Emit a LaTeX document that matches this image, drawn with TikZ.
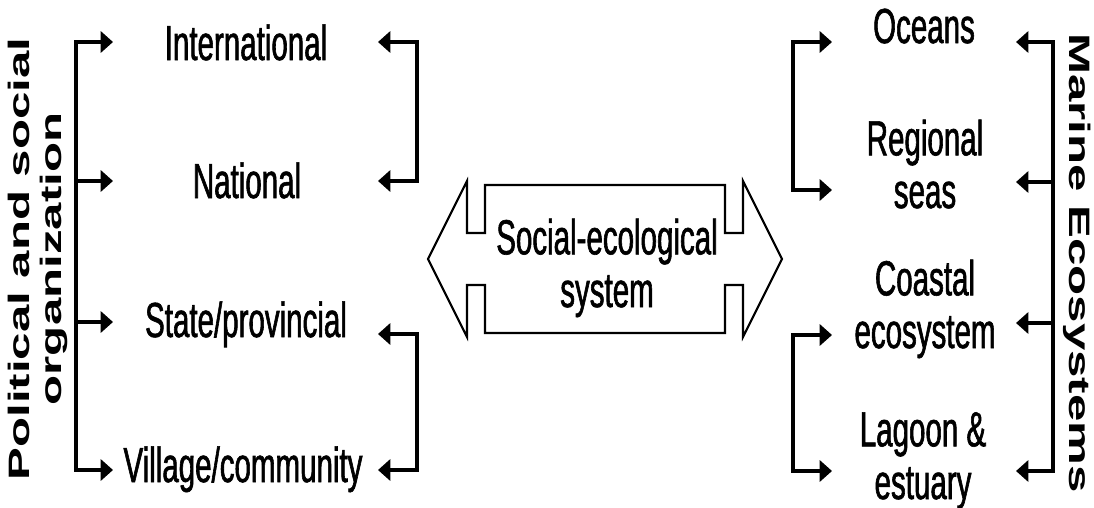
\documentclass[tikz,border=0pt]{standalone}
\usepackage{fontspec}
\usetikzlibrary{arrows.meta}
\newfontfamily\narrowsans[FakeStretch=0.6,FakeBold=1.2]{Liberation Sans}
\newfontfamily\widesans{Liberation Sans}
\tikzset{
  level/.style={font=\narrowsans\fontsize{28}{30}\selectfont, align=center,
    inner sep=0pt, anchor=base},
  sidetitle/.style={font=\widesans\bfseries\fontsize{28}{30}\selectfont,
    inner sep=0pt},
  bracket/.style={line width=1.8pt, {Triangle[length=7pt,width=12pt]}-{Triangle[length=7pt,width=12pt]}},
  tip/.style={line width=1.8pt, -{Triangle[length=7pt,width=12pt]}},
}
\begin{document}
\begin{tikzpicture}[x=0.02cm,y=-0.02cm]
\useasboundingbox (0,0) rectangle (1094,507);
% Levels of political and social organization
\node[level] (international) at (246,60) {International};
\node[level] (national) at (247,198) {National};
\node[level] (state) at (246,337) {State/provincial};
\node[level] (village) at (243,482) {Village/community};
% Marine ecosystems (base = last line)
\node[level] (oceans) at (924,43) {Oceans};
\node[level] (regional) at (925,208) {Regional\\seas};
\node[level] (coastal) at (925,348) {Coastal\\ecosystem};
\node[level] (lagoon) at (923,499) {Lagoon \&\\estuary};
% Side titles
\node[sidetitle, rotate=90] (political) at (39,259)
  {\scalebox{1}[.6]{\begin{tabular}{@{}c@{}}Political and social\\organization\end{tabular}}};
\node[sidetitle, rotate=-90] (marine) at (1077,263) {\scalebox{1}[.6]{Marine Ecosystems}};
% Central double arrow
\draw[line width=1.2pt] (428,259) -- (467,337) -- (467,285) -- (485,285) -- (485,333)
  -- (725,333) -- (725,285) -- (743,285) -- (743,337) -- (782,259) -- (743,181)
  -- (743,233) -- (725,233) -- (725,185) -- (485,185) -- (485,233) -- (467,233)
  -- (467,181) -- cycle;
\node[level] (ses) at (607,307) {Social-ecological\\system};
% Left outer bracket
\coordinate (po-tip) at (113,0);
\coordinate (po-1) at (76,42);
\coordinate (po-2) at (76,181);
\coordinate (po-3) at (76,322);
\coordinate (po-4) at (76,470);
\draw[bracket] (po-1 -| po-tip) -- (po-1) -- (po-4) -- (po-4 -| po-tip);
\draw[tip] (po-2) -- (po-2 -| po-tip);
\draw[tip] (po-3) -- (po-3 -| po-tip);
% Left inner brackets
\coordinate (pi-tip) at (378,0);
\coordinate (pi-1) at (417,42);
\coordinate (pi-2) at (417,181);
\coordinate (pi-3) at (417,334);
\coordinate (pi-4) at (417,470);
\draw[bracket] (pi-1 -| pi-tip) -- (pi-1) -- (pi-2) -- (pi-2 -| pi-tip);
\draw[bracket] (pi-3 -| pi-tip) -- (pi-3) -- (pi-4) -- (pi-4 -| pi-tip);
% Right inner brackets
\coordinate (mi-tip) at (832,0);
\coordinate (mi-1) at (793,42);
\coordinate (mi-2) at (793,190);
\coordinate (mi-3) at (793,335);
\coordinate (mi-4) at (793,471);
\draw[bracket] (mi-1 -| mi-tip) -- (mi-1) -- (mi-2) -- (mi-2 -| mi-tip);
\draw[bracket] (mi-3 -| mi-tip) -- (mi-3) -- (mi-4) -- (mi-4 -| mi-tip);
% Right outer bracket
\coordinate (mo-tip) at (1016,0);
\coordinate (mo-1) at (1053,42);
\coordinate (mo-2) at (1053,182);
\coordinate (mo-3) at (1053,323);
\coordinate (mo-4) at (1053,471);
\draw[bracket] (mo-1 -| mo-tip) -- (mo-1) -- (mo-4) -- (mo-4 -| mo-tip);
\draw[tip] (mo-2) -- (mo-2 -| mo-tip);
\draw[tip] (mo-3) -- (mo-3 -| mo-tip);
\end{tikzpicture}
\end{document}
